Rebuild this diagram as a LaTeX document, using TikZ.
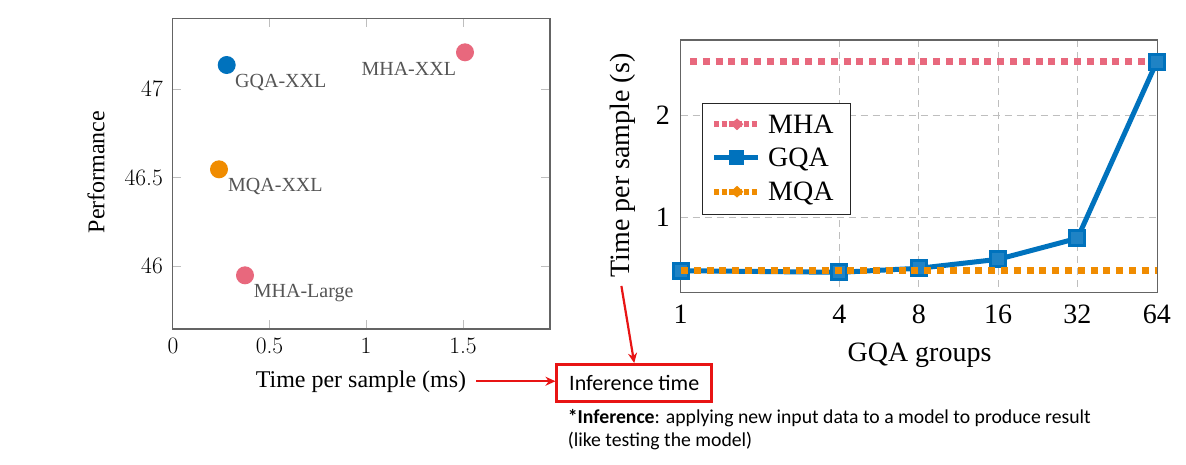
\documentclass[tikz,border=0pt]{standalone}
\usepackage{fontspec}
\newfontfamily\tms{Liberation Serif}
\newfontfamily\calfont{Carlito}
\usetikzlibrary{arrows.meta,shapes.geometric}
\definecolor{myblue}{RGB}{0,114,189}
\definecolor{myorange}{RGB}{240,140,0}
\definecolor{mypink}{RGB}{232,104,125}
\definecolor{lblgray}{RGB}{85,85,85}
\definecolor{framegray}{RGB}{100,100,100}
\definecolor{tickgray}{RGB}{190,190,190}
\definecolor{gridgray}{RGB}{190,190,190}
\definecolor{myred}{RGB}{232,20,20}
\tikzset{
  frame/.style={draw=framegray, line width=1.2pt},
  tickmk/.style={draw=tickgray, line width=1pt},
  gridln/.style={draw=gridgray, line width=1pt, dash pattern=on 7pt off 5pt},
  dotpt/.style={circle, inner sep=0pt, minimum size=18pt},
  ptlbl/.style={text=lblgray, font=\tms\fontsize{20}{24}\selectfont, inner sep=0pt},
  lmtick/.style={font=\fontsize{23.5}{27}\selectfont, inner sep=0pt},
  tmtick/.style={font=\tms\fontsize{28}{32}\selectfont, inner sep=0pt},
  axlbl/.style={font=\tms\fontsize{24}{28}\selectfont, inner sep=0pt},
  bigaxlbl/.style={font=\tms\fontsize{28}{32}\selectfont, inner sep=0pt},
  mhaln/.style={draw=mypink, line width=7pt, dash pattern=on 7pt off 5.8pt},
  mqaln/.style={draw=myorange, line width=7pt, dash pattern=on 7pt off 5.8pt},
  gqaln/.style={draw=myblue, line width=5pt, line join=round},
  gqamark/.style={rectangle, draw=myblue, fill=myblue!88!white, line width=3pt, minimum size=15pt, inner sep=0pt},
  mhaleg/.style={draw=mypink, line width=6pt, dash pattern=on 5pt off 2.5pt},
  mqaleg/.style={draw=myorange, line width=6pt, dash pattern=on 5pt off 2.5pt},
  legmark/.style={diamond, inner sep=0pt, minimum width=13pt, minimum height=12pt},
  legtxt/.style={font=\tms\fontsize{28}{32}\selectfont, inner sep=0pt},
  redarr/.style={draw=myred, line width=2.2pt, -{Stealth[length=10pt,width=9pt]}},
}
\begin{document}
\begin{tikzpicture}[x=1pt,y=-1pt]
\fill[white] (0,0) rectangle (1186,464);
\useasboundingbox (0,0) rectangle (1186,464);

% ---------- left scatter plot ----------
\draw[frame] (172.7,18.3) rectangle (550,329);
\foreach \xx in {269.5,366,463} {
  \draw[tickmk] (\xx,18.9) -- ++(0,8);
  \draw[tickmk] (\xx,328.4) -- ++(0,-8);
}
\foreach \yy in {89,177.7,266.3} {
  \draw[tickmk] (173.3,\yy) -- ++(8,0);
  \draw[tickmk] (549.4,\yy) -- ++(-8,0);
}
\node[lmtick, anchor=east] (ly47) at (163,89) {47};
\node[lmtick, anchor=east] (ly465) at (163,177.7) {46.5};
\node[lmtick, anchor=east] (ly46) at (163,266.3) {46};
\node[lmtick] (lx0) at (173,346) {0};
\node[lmtick] (lx05) at (269.5,346) {0.5};
\node[lmtick] (lx1) at (366,346) {1};
\node[lmtick] (lx15) at (463,346) {1.5};

\node[dotpt, fill=myblue] (dgqa) at (226.7,65) {};
\node[dotpt, fill=mypink] (dmhaxxl) at (465,52.3) {};
\node[dotpt, fill=myorange] (dmqa) at (219,169.3) {};
\node[dotpt, fill=mypink] (dmhal) at (245,275.3) {};
\node[ptlbl, anchor=base west] (tgqa) at (235,87.3) {GQA-XXL};
\node[ptlbl, anchor=base east] (tmhaxxl) at (456.2,75) {MHA-XXL};
\node[ptlbl, anchor=base west] (tmqa) at (228,191.7) {MQA-XXL};
\node[ptlbl, anchor=base west] (tmhal) at (253.7,297.7) {MHA-Large};

\node[axlbl, rotate=90] (perf) at (96,172) {Performance};
\node[axlbl, anchor=base] (tps) at (361,387) {Time per sample (ms)};

% ---------- right line plot ----------
\foreach \xx in {839.4,918.75,998.1,1077.45} {
  \draw[gridln] (\xx,40) -- (\xx,292.7);
}
\foreach \yy in {115.3,217.7} {
  \draw[gridln] (680.7,\yy) -- (1157.5,\yy);
}
\draw[frame] (680.7,40) rectangle (1157.5,292.7);

\coordinate (ha) at (690,61);
\coordinate (hb) at (1157,61);
\draw[mhaln] (ha) -- (hb);

\coordinate (g1) at (680.7,270.7);
\coordinate (g2) at (839.4,272.3);
\coordinate (g3) at (918.75,268.3);
\coordinate (g4) at (998.1,259.3);
\coordinate (g5) at (1077.45,238.3);
\coordinate (g6) at (1156.8,61.7);
\draw[gqaln] (g1) -- (g2) -- (g3) -- (g4) -- (g5) -- (g6);
\node[gqamark] (m1) at (g1) {};
\node[gqamark] (m2) at (g2) {};
\node[gqamark] (m3) at (g3) {};
\node[gqamark] (m4) at (g4) {};
\node[gqamark] (m5) at (g5) {};
\node[gqamark] (m6) at (g6) {};

\coordinate (qa) at (681,270.7);
\coordinate (qb) at (1157,270.7);
\draw[mqaln] (qa) -- (qb);

\node[tmtick] (rx1) at (680.7,314) {1};
\node[tmtick] (rx4) at (839.4,314) {4};
\node[tmtick] (rx8) at (918.75,314) {8};
\node[tmtick] (rx16) at (998.1,314) {16};
\node[tmtick] (rx32) at (1077.45,314) {32};
\node[tmtick] (rx64) at (1156.8,314) {64};
\node[tmtick, anchor=east] (ry2) at (670,115.3) {2};
\node[tmtick, anchor=east] (ry1) at (670,217.7) {1};

\node[bigaxlbl, rotate=90] (ylab) at (623,165.5) {Time per sample (s)};
\node[bigaxlbl, anchor=base] (xlab) at (919.5,361.5) {GQA groups};

% legend
\node[draw=black!85, fill=white, line width=1pt, minimum width=147.3pt, minimum height=110.7pt, inner sep=0pt] (leg) at (776.35,158.65) {};
\coordinate (l1a) at (714,124.3);
\coordinate (l1b) at (758,124.3);
\draw[mhaleg] (l1a) -- (l1b);
\node[legmark, fill=mypink] (l1m) at (737,124.3) {};
\node[legtxt, anchor=base west] (l1t) at (768,133.3) {MHA};
\coordinate (l2a) at (714,157.7);
\coordinate (l2b) at (758,157.7);
\draw[gqaln] (l2a) -- (l2b);
\node[rectangle, fill=myblue, minimum size=15pt, inner sep=0pt] (l2m) at (736,157.7) {};
\node[legtxt, anchor=base west] (l2t) at (768,166.7) {GQA};
\coordinate (l3a) at (714,191.7);
\coordinate (l3b) at (758,191.7);
\draw[mqaleg] (l3a) -- (l3b);
\node[legmark, fill=myorange] (l3m) at (737,191.7) {};
\node[legtxt, anchor=base west] (l3t) at (768,200.5) {MQA};

% ---------- annotation ----------
\node[draw=myred, line width=2.5pt, minimum width=155pt, minimum height=37.4pt, inner sep=0pt, font=\calfont\fontsize{22}{26}\selectfont] (inf) at (634.2,383) {Inference time};
\draw[redarr, shorten <=10pt] (tps.east) -- (tps.east -| inf.west);
\draw[redarr, shorten <=8.5pt] ([xshift=-3pt]ylab.west) -- (inf.north);
\node[anchor=base west, inner sep=0pt, font=\calfont\fontsize{19.7}{22.5}\selectfont] (note1) at (567.7,423.3) {\textbf{*Inference}: applying new input data to a model to produce result};
\node[anchor=base west, inner sep=0pt, font=\calfont\fontsize{19.7}{22.5}\selectfont] (note2) at (567.7,446) {(like testing the model)};
\end{tikzpicture}
\end{document}
